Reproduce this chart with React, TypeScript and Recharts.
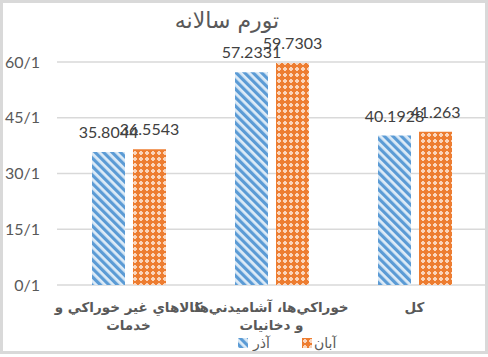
import React from 'react';
import { BarChart, Bar, XAxis, YAxis, CartesianGrid, LabelList, Legend } from 'recharts';

const categories = ['كالاهاي غير خوراكي و\nخدمات', 'خوراكي‌ها، آشاميدني‌ها\nو دخانيات', 'كل'];
const azarValues = [35.8044, 57.2331, 40.1928];
const abanValues = [36.5543, 59.7303, 41.263];
const seriesNames = ['آذر', 'آبان'];
const yTicks = [0, 15, 30, 45, 60];
const yTickLabels = ['0/1', '15/1', '30/1', '45/1', '60/1'];
const title = 'تورم سالانه';

const data = categories.map((c, i) => ({ name: c, azar: azarValues[i], aban: abanValues[i] }));

const ARABIC_FONT = "'DejaVu Sans', sans-serif";
const NUM_FONT = "Lato, 'DejaVu Sans', sans-serif";

const CatTick = (props: any) => {
  const { x, y, payload } = props;
  const lines = String(payload.value).split('\n');
  return (
    <g>
      {lines.map((ln: string, i: number) => (
        <text
          key={i}
          x={x}
          y={y + 19 + i * 18}
          textAnchor="middle"
          fontSize={13.5}
          fontWeight="bold"
          fill="#595959"
          fontFamily={ARABIC_FONT}
        >
          {ln}
        </text>
      ))}
    </g>
  );
};

const LegendContent = () => (
  <div style={{ position: 'relative', width: 488, height: 18, fontFamily: ARABIC_FONT, fontSize: 14, color: '#595959' }}>
    <svg width={10} height={10} style={{ position: 'absolute', left: 238, top: 4 }}>
      <rect width={10} height={10} fill="url(#blueStripe)" />
    </svg>
    <span style={{ position: 'absolute', left: 253, top: 0, lineHeight: '18px' }}>{seriesNames[0]}</span>
    <svg width={10} height={10} style={{ position: 'absolute', left: 302, top: 4 }}>
      <rect width={10} height={10} fill="url(#orangeCheck)" />
    </svg>
    <span style={{ position: 'absolute', left: 314, top: 0, lineHeight: '18px' }}>{seriesNames[1]}</span>
  </div>
);

export default function App() {
  return (
    <div style={{ position: 'absolute', left: 0, top: 0, width: 488, height: 357, background: '#fff' }}>
      <BarChart
        width={488}
        height={357}
        data={data}
        margin={{ top: 62, right: 2, left: 7, bottom: 0 }}
        barGap={8}
        barSize={33}
      >
        <defs>
          <pattern id="blueStripe" patternUnits="userSpaceOnUse" width={6} height={6} patternTransform="rotate(-45)">
            <rect width={6} height={6} fill="#DDEBF7" />
            <rect width={3.2} height={6} fill="#5B9BD5" />
          </pattern>
          <pattern id="orangeCheck" patternUnits="userSpaceOnUse" width={6} height={6}>
            <rect width={6} height={6} fill="#ED7D31" />
            <rect x={1} y={2} width={4} height={2} fill="#FAD5BC" />
            <rect x={2} y={1} width={2} height={4} fill="#FAD5BC" />
          </pattern>
        </defs>
        <text x={227} y={28} textAnchor="middle" fontSize={22} fill="#595959" fontFamily={ARABIC_FONT}>
          {title}
        </text>
        <CartesianGrid vertical={false} stroke="#d9d9d9" strokeWidth={1.5} />
        <XAxis
          dataKey="name"
          axisLine={false}
          tickLine={false}
          height={72}
          interval={0}
          tick={<CatTick />}
        />
        <YAxis
          domain={[0, 60]}
          ticks={yTicks}
          tickFormatter={(v: number) => yTickLabels[yTicks.indexOf(v)]}
          axisLine={false}
          tickLine={false}
          tickSize={0}
          tickMargin={17}
          width={50}
          tick={{ fontSize: 16, fill: '#595959', fontFamily: NUM_FONT }}
        />
        <Bar dataKey="azar" name={seriesNames[0]} fill="url(#blueStripe)" isAnimationActive={false}>
          <LabelList dataKey="azar" position="top" offset={14} fontSize={16} fill="#404040" fontFamily={NUM_FONT} />
        </Bar>
        <Bar dataKey="aban" name={seriesNames[1]} fill="url(#orangeCheck)" isAnimationActive={false}>
          <LabelList dataKey="aban" position="top" offset={14} fontSize={16} fill="#404040" fontFamily={NUM_FONT} />
        </Bar>
        <Legend
          content={<LegendContent />}
          verticalAlign="middle"
          layout="horizontal"
          wrapperStyle={{ top: 334, left: 0, width: 488, height: 18 }}
        />
      </BarChart>
      <div
        style={{
          position: 'absolute',
          left: 0,
          top: 0,
          width: 488,
          height: 354,
          border: '3px solid #d9d9d9',
          boxSizing: 'border-box',
          pointerEvents: 'none',
        }}
      />
    </div>
  );
}
